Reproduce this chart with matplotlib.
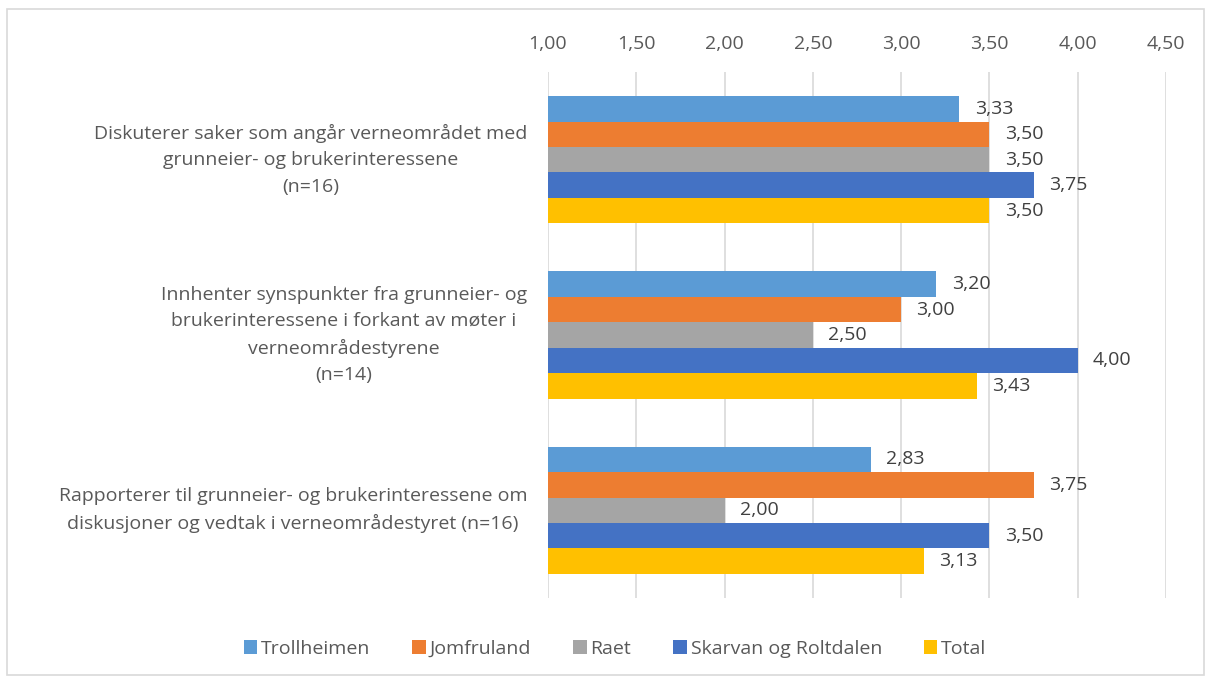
import matplotlib
matplotlib.use("Agg")
import matplotlib.pyplot as plt
from matplotlib.patches import Rectangle
import numpy as np

plt.rcParams['font.family'] = ['Open Sans', 'DejaVu Sans']

categories = [
    "Diskuterer saker som angår verneområdet med\ngrunneier- og brukerinteressene\n(n=16)",
    "Innhenter synspunkter fra grunneier- og\nbrukerinteressene i forkant av møter i\nverneområdestyrene\n(n=14)",
    "Rapporterer til grunneier- og brukerinteressene om\ndiskusjoner og vedtak i verneområdestyret (n=16)",
]
series_names = ["Trollheimen", "Jomfruland", "Raet", "Skarvan og Roltdalen", "Total"]
trollheimen = [3.33, 3.20, 2.83]
jomfruland = [3.50, 3.00, 3.75]
raet = [3.50, 2.50, 2.00]
skarvan = [3.75, 4.00, 3.50]
total = [3.50, 3.43, 3.13]
series_values = [trollheimen, jomfruland, raet, skarvan, total]
colors = ["#5B9BD5", "#ED7D31", "#A5A5A5", "#4472C4", "#FFC000"]
xticks = [1.0, 1.5, 2.0, 2.5, 3.0, 3.5, 4.0, 4.5]

W, H = 1212, 682
fig = plt.figure(figsize=(W / 100, H / 100), dpi=100)
fig.patch.set_facecolor("white")
# outer frame
fig.patches.append(Rectangle((7 / W, 7 / H), 1197 / W, 666 / H, transform=fig.transFigure,
                             fill=False, edgecolor="#D9D9D9", linewidth=1.2))

ax = fig.add_axes([548 / W, 1 - 598 / H, 618 / W, 526 / H])
text_color = "#595959"
fs = 14

n = len(series_names)
h = 0.145
y = np.arange(len(categories))
base = 1.0
for j, (name, vals, c) in enumerate(zip(series_names, series_values, colors)):
    pos = y + (j - (n - 1) / 2) * h
    vals = np.array(vals)
    ax.barh(pos, vals - base, left=base, height=h, color=c, label=name, zorder=3)
    for p, v in zip(pos, vals):
        ax.annotate(f"{v:.2f}".replace(".", ","), xy=(v, p), xytext=(11, 0),
                    textcoords="offset points", va="center", ha="left",
                    fontsize=fs, color="#404040")

ax.set_xlim(1.0, 4.5)
ax.set_ylim(len(categories) - 0.5, -0.5)
ax.xaxis.tick_top()
ax.set_xticks(xticks)
ax.set_xticklabels([f"{t:.2f}".replace(".", ",") for t in xticks])
ax.tick_params(axis="x", length=0, pad=14, labelsize=fs, labelcolor=text_color)
ax.set_yticks([])
for s in ax.spines.values():
    s.set_visible(False)
ax.grid(axis="x", color="#D9D9D9", linewidth=1.2, zorder=0)
ax.set_axisbelow(True)

for yi, cat in zip(y, categories):
    ax.annotate(cat, xy=(0, yi), xycoords=ax.get_yaxis_transform(), xytext=(-15, 0),
                textcoords="offset points", ha="right", va="center",
                multialignment="center", fontsize=fs, color=text_color, linespacing=1.6)

leg = fig.legend(loc="center", bbox_to_anchor=(615 / W, 1 - 649 / H), ncol=5, frameon=False,
                 fontsize=fs, handlelength=0.7, handleheight=0.7, handletextpad=0.2,
                 columnspacing=2.15, labelcolor=text_color)

fig.savefig("out.png", dpi=100)
